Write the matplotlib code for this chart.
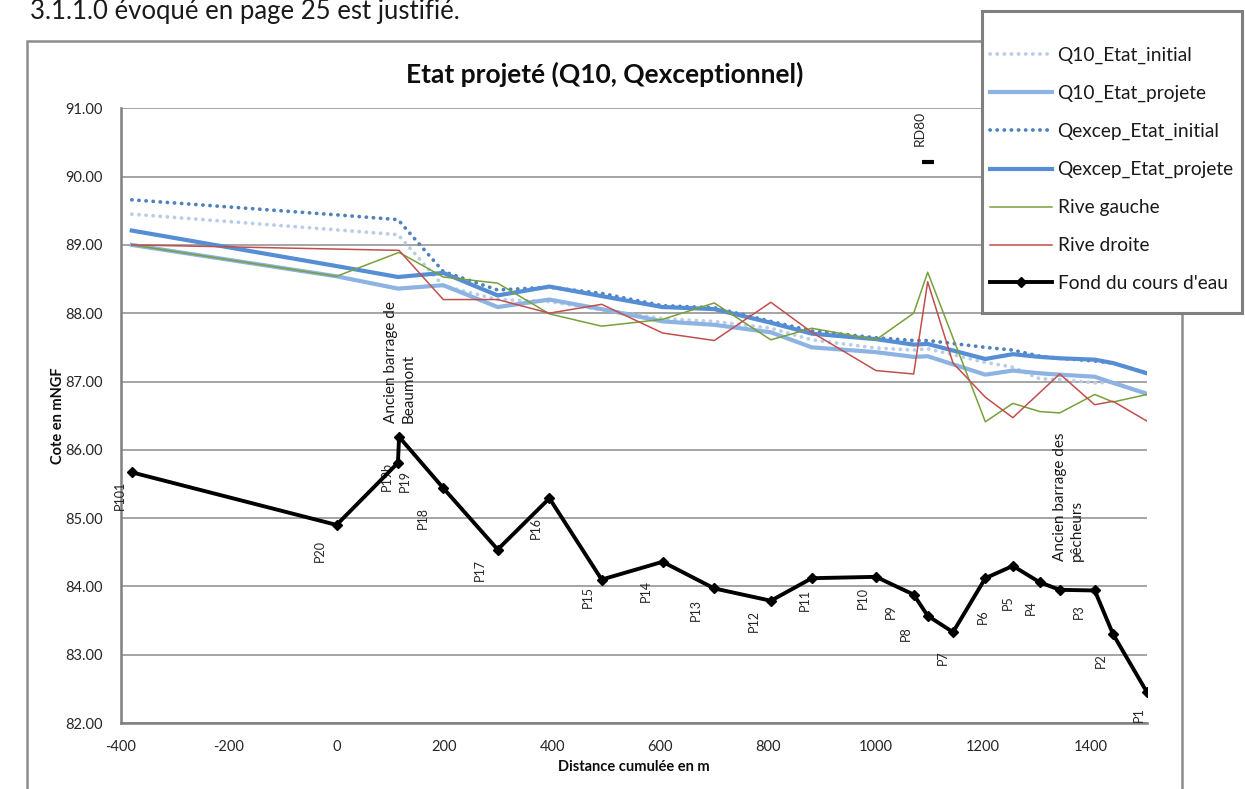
import matplotlib
matplotlib.use('Agg')
import matplotlib.pyplot as plt
from matplotlib.patches import Rectangle

plt.rcParams['font.family'] = ['Lato', 'DejaVu Sans']
plt.rcParams['axes.unicode_minus'] = False

# ---- Data -------------------------------------------------------------
# Hydraulic profiles: cumulative distance (m) and river bed level (m NGF)
profile_dist = [-380, 0, 114, 116, 198, 299, 395, 492, 605, 701, 806, 882,
                1001, 1071, 1097, 1144, 1204, 1255, 1305, 1342, 1407, 1441, 1504]
bed_level = [85.67, 84.90, 85.81, 86.19, 85.44, 84.54, 85.29, 84.10, 84.36, 83.97,
             83.79, 84.12, 84.14, 83.88, 83.57, 83.33, 84.12, 84.30, 84.06, 83.95,
             83.94, 83.30, 82.45]
profile_names = ['P101', 'P20', 'P19b', 'P19', 'P18', 'P17', 'P16', 'P15', 'P14',
                 'P13', 'P12', 'P11', 'P10', 'P9', 'P8', 'P7', 'P6', 'P5', 'P4',
                 '', 'P3', 'P2', 'P1']

# Water surface lines
water_dist = [-380, 0, 114, 198, 299, 395, 492, 605, 701, 806, 882, 1001, 1071,
              1097, 1204, 1255, 1305, 1342, 1407, 1441, 1504]
q10_initial = [89.45, 89.22, 89.15, 88.40, 88.20, 88.17, 88.05, 87.92, 87.88, 87.78,
               87.61, 87.49, 87.46, 87.48, 87.28, 87.21, 87.04, 87.03, 86.98, 86.99, 86.82]
q10_projete = [89.00, 88.54, 88.36, 88.41, 88.09, 88.20, 88.06, 87.88, 87.83, 87.72,
               87.50, 87.43, 87.36, 87.37, 87.10, 87.16, 87.12, 87.10, 87.07, 86.98, 86.82]
qexcep_initial = [89.66, 89.44, 89.37, 88.61, 88.34, 88.38, 88.29, 88.11, 88.08, 87.88,
                  87.74, 87.64, 87.60, 87.60, 87.50, 87.46, 87.37, 87.34, 87.30, 87.27, 87.12]
qexcep_projete = [89.21, 88.69, 88.53, 88.59, 88.26, 88.39, 88.25, 88.09, 88.06, 87.86,
                  87.70, 87.62, 87.54, 87.55, 87.33, 87.40, 87.36, 87.34, 87.32, 87.27, 87.12]

# Bank levels
left_bank_dist = [-380, 0, 116, 198, 299, 395, 492, 605, 701, 806, 882, 1001, 1071,
                  1097, 1204, 1255, 1305, 1342, 1407, 1441, 1504]
left_bank = [89.00, 88.54, 88.89, 88.53, 88.44, 87.99, 87.81, 87.91, 88.15, 87.61,
             87.78, 87.61, 88.00, 88.60, 86.41, 86.68, 86.56, 86.54, 86.81, 86.70, 86.81]
right_bank_dist = [-380, 116, 198, 299, 395, 492, 605, 701, 806, 882, 1001, 1071,
                   1097, 1144, 1204, 1255, 1342, 1407, 1441, 1504]
right_bank = [89.00, 88.92, 88.20, 88.20, 88.00, 88.13, 87.71, 87.60, 88.16, 87.72,
              87.16, 87.11, 88.46, 87.27, 86.77, 86.47, 87.11, 86.66, 86.71, 86.42]

# Road bridge deck
rd80_dist = [1097]
rd80_level = [90.21]

x_ticks = [-400, -200, 0, 200, 400, 600, 800, 1000, 1200, 1400]
y_ticks = [82, 83, 84, 85, 86, 87, 88, 89, 90, 91]

# ---- Figure -----------------------------------------------------------
W, H = 1245, 789
fig = plt.figure(figsize=(W / 100, H / 100), dpi=100)
fig.patch.set_facecolor('white')


def fx(px):
    return px / W


def fy(py):
    return 1 - py / H


# chart frame
fig.patches.append(Rectangle((fx(27), fy(800)), fx(1182) - fx(27), fy(41) - fy(800),
                             transform=fig.transFigure, fill=False,
                             edgecolor='#8c8c8c', linewidth=1.8, zorder=0))

fig.text(fx(30), fy(19), '3.1.1.0 évoqué en page 25 est justifié.',
         fontsize=18.5, color='#1a1a1a', ha='left', va='baseline')

ax = fig.add_axes([fx(121), fy(723), fx(1147) - fx(121), fy(108.3) - fy(723)])
ax.set_xlim(-400, 1504)
ax.set_ylim(82, 91)
ax.set_xticks(x_ticks)
ax.set_yticks(y_ticks)
ax.set_yticklabels([f'{v:.2f}' for v in y_ticks])
ax.tick_params(length=0, labelsize=10.5, colors='#262626')
ax.tick_params(axis='y', pad=13)
ax.tick_params(axis='x', pad=12)
ax.grid(axis='y', color='#8c8c8c', linewidth=1.1)
ax.set_axisbelow(True)
for side in ('top', 'right'):
    ax.spines[side].set_visible(False)
for side in ('left', 'bottom'):
    ax.spines[side].set_color('#808080')
    ax.spines[side].set_linewidth(1.8)

dot = (0, (0.05, 1.85))
ax.plot(water_dist, q10_initial, color='#b9cde5', lw=2.7, ls=dot,
        dash_capstyle='round', label='Q10_Etat_initial')
ax.plot(water_dist, q10_projete, color='#8db3e2', lw=3.0,
        solid_joinstyle='round', label='Q10_Etat_projete')
ax.plot(water_dist, qexcep_initial, color='#4f81bd', lw=2.7, ls=dot,
        dash_capstyle='round', label='Qexcep_Etat_initial')
ax.plot(water_dist, qexcep_projete, color='#558ed5', lw=3.0,
        solid_joinstyle='round', label='Qexcep_Etat_projete')
ax.plot(left_bank_dist, left_bank, color='#77a03c', lw=1.1, label='Rive gauche')
ax.plot(right_bank_dist, right_bank, color='#c0504d', lw=1.1, label='Rive droite')
ax.plot(profile_dist, bed_level, color='black', lw=2.8, marker='D', markersize=5.5,
        label="Fond du cours d'eau", zorder=5)
ax.plot(rd80_dist, rd80_level, ls='none', marker='_', markersize=8,
        markeredgewidth=3, color='black', zorder=5)

# profile names below the bed points (pixel offsets)
name_offsets = [(-12, 23), (-17, 26), (-11, 14), (6, 44), (-20, 30), (-18, 20),
                (-14, 30), (-14, 17), (-17, 29), (-18, 22), (-17, 20), (-7, 22),
                (-13, 21), (-23, 17), (-22, 18), (-10, 25), (-2, 38), (-5, 37),
                (-9, 25), (0, 0), (-16, 21), (-12, 26), (-8, 22)]
for x, y, name, (dx, dy) in zip(profile_dist, bed_level, profile_names, name_offsets):
    if name:
        ax.annotate(name, (x, y), xytext=(dx, -dy), textcoords='offset pixels',
                    rotation=90, ha='center', va='center', fontsize=9,
                    color='#262626', zorder=3)

ax.annotate('Ancien barrage de\nBeaumont', (profile_dist[3], bed_level[3]),
            xytext=(1, 14), textcoords='offset pixels', rotation=90,
            ha='center', va='bottom', multialignment='left', fontsize=11,
            linespacing=1.3, color='#1a1a1a')
ax.annotate('Ancien barrage des\npêcheurs', (profile_dist[19], bed_level[19]),
            xytext=(9, 29), textcoords='offset pixels', rotation=90,
            ha='center', va='bottom', multialignment='left', fontsize=11,
            linespacing=1.3, color='#1a1a1a')
ax.annotate('RD80', (rd80_dist[0], rd80_level[0]), xytext=(-8, 34),
            textcoords='offset pixels', rotation=90, ha='center', va='center',
            fontsize=10, color='#262626')

ax.set_ylabel('Cote en mNGF', fontsize=10.5, fontweight='bold', color='#0d0d0d')
ax.yaxis.set_label_coords((58 - 121) / 1026, 0.5)
ax.yaxis.label.set_verticalalignment('center')
ax.set_xlabel('Distance cumulée en m', fontsize=10.5, fontweight='bold', color='#0d0d0d')
ax.xaxis.set_label_coords(0.5, -(760 - 723) / 614.7)

fig.text(fx(605), fy(74), 'Etat projeté (Q10, Qexceptionnel)', fontsize=19,
         fontweight='bold', ha='center', va='center', color='#0d0d0d')

# legend box
fig.patches.append(Rectangle((fx(982), fy(313)), fx(1242) - fx(982), fy(11) - fy(313),
                             transform=fig.transFigure, facecolor='white',
                             edgecolor='#7f7f7f', linewidth=2.2, zorder=10))
handles, labels = ax.get_legend_handles_labels()
leg = fig.legend(handles, labels, loc='upper left',
                 bbox_to_anchor=(fx(984), fy(41)), frameon=False,
                 fontsize=13.8, handlelength=3.23, handletextpad=0.31,
                 labelspacing=1.09, borderpad=0.3, borderaxespad=0,
                 labelcolor='#1a1a1a')
leg.set_zorder(11)

fig.savefig('out.png', dpi=100)
